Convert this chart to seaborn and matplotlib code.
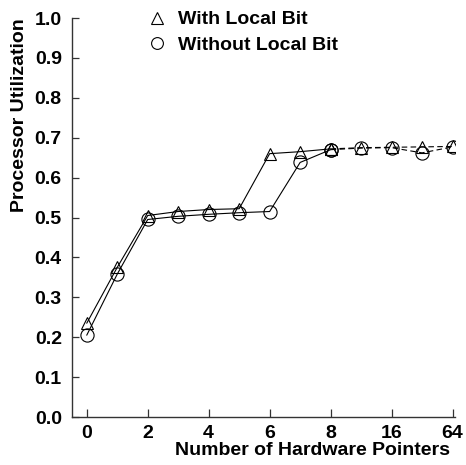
import matplotlib
matplotlib.use("Agg")
import matplotlib.pyplot as plt
from matplotlib.lines import Line2D
import numpy as np
import pandas as pd
import seaborn as sns

# Hardware pointer counts (plotted at evenly spaced positions)
pointers = [0, 1, 2, 3, 4, 5, 6, 7, 8, 12, 16, 32, 64]
tick_labels = ["0", "2", "4", "6", "8", "16", "64"]

with_local = [0.235, 0.375, 0.505, 0.515, 0.520, 0.522, 0.660, 0.665, 0.672,
              0.675, 0.676, 0.677, 0.678]
without_local = [0.205, 0.358, 0.495, 0.503, 0.508, 0.512, 0.515, 0.638, 0.670,
                 0.674, 0.675, 0.662, 0.677]

sns.set_theme(style="white")
plt.rcParams["font.family"] = ["Liberation Sans", "DejaVu Sans"]
plt.rcParams["font.weight"] = "bold"
plt.rcParams["text.color"] = "black"
plt.rcParams["xtick.color"] = "black"
plt.rcParams["ytick.color"] = "black"

pos = np.arange(len(pointers))
df = pd.DataFrame({"pos": pos, "pointers": pointers,
                   "with": with_local, "without": without_local})
solid = df[df["pos"] <= 8]
dashed = df[df["pos"] >= 8]

fig = plt.figure(figsize=(4.66, 4.65), dpi=100)
ax = fig.add_axes([71.5 / 466, 1 - 417 / 465, (455 - 71.5) / 466, (417 - 18) / 465])

lw = 0.8
for part, ls in ((solid, "-"), (dashed, (0, (5, 3)))):
    sns.lineplot(data=part, x="pos", y="with", ax=ax, color="black", lw=lw,
                 linestyle=ls, marker="^", markersize=9, markerfacecolor="none",
                 markeredgecolor="black", markeredgewidth=0.8)
    sns.lineplot(data=part, x="pos", y="without", ax=ax, color="black", lw=lw,
                 linestyle=ls, marker="o", markersize=9.5, markerfacecolor="none",
                 markeredgecolor="black", markeredgewidth=0.8)

ax.set_xlim(-0.5, 12.08)
ax.set_ylim(0, 1.0)
ax.set_xticks(pos[::2])
ax.set_xticklabels(tick_labels)
ax.set_yticks(np.round(np.arange(0, 1.01, 0.1), 1))
ax.set_yticklabels([f"{v:.1f}" for v in np.arange(0, 1.01, 0.1)])
ax.set_xlabel("")
ax.set_ylabel("")

for side in ("top", "right"):
    ax.spines[side].set_visible(False)
for side in ("left", "bottom"):
    ax.spines[side].set_color("#333333")
    ax.spines[side].set_linewidth(1.0)

ax.tick_params(axis="x", bottom=True, direction="in", length=6, width=0.9,
               color="#333333", labelcolor="black", pad=6, labelsize=14)
ax.tick_params(axis="y", left=True, direction="in", length=5, width=0.9,
               color="#333333", labelcolor="black", pad=7, labelsize=14)
for lab in ax.get_xticklabels() + ax.get_yticklabels():
    lab.set_fontweight("bold")

fig.text(312.5 / 466, 1 - 450 / 465, "Number of Hardware Pointers",
         ha="center", va="center", fontsize=14, fontweight="bold", color="black")
fig.text(20 / 466, 1 - 115 / 465, "Processor Utilization", rotation=90,
         ha="center", va="center", fontsize=14, fontweight="bold", color="black")

handles = [
    Line2D([], [], color="black", linestyle="none", marker="^", markersize=8.5,
           markerfacecolor="none", markeredgewidth=0.8),
    Line2D([], [], color="black", linestyle="none", marker="o", markersize=8.5,
           markerfacecolor="none", markeredgewidth=0.8),
]
fig.legend(handles, ["With Local Bit", "Without Local Bit"],
           loc="upper left", bbox_to_anchor=(137.3 / 466, 1 - 1 / 465),
           frameon=False, borderpad=0, handlelength=1.0, handletextpad=0.6,
           labelspacing=0.4, prop={"size": 14, "weight": "bold"})

fig.savefig("out.png", dpi=100)
